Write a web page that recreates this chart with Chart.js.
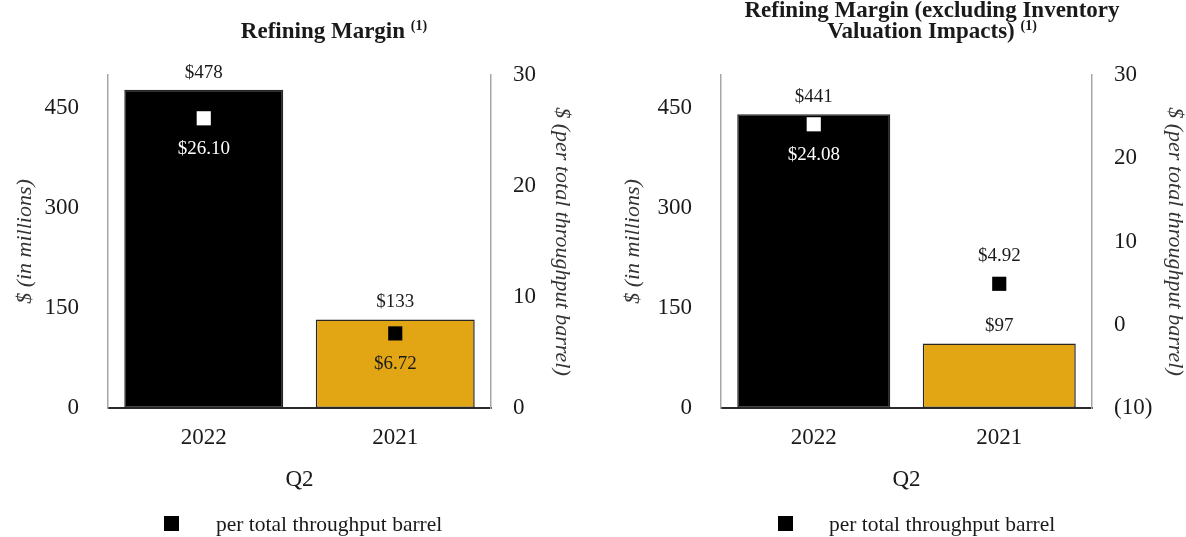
<!DOCTYPE html>
<html>
<head>
<meta charset="utf-8">
<script src="https://cdn.jsdelivr.net/npm/chart.js@4"></script>
<style>
  html, body { margin: 0; padding: 0; background: #fff; }
  #wrap { position: relative; width: 1186px; height: 537px; overflow: hidden; font-family: "Liberation Serif", "Times New Roman", serif; color: #1a1a1a; }
  .panel { position: absolute; top: 0; width: 593px; height: 537px; }
  .title { position: absolute; font-weight: bold; font-size: 23px; line-height: 21px; text-align: center; white-space: nowrap; }
  .title sup { font-size: 14px; vertical-align: 0; position: relative; top: -8px; }
  .legend { position: absolute; font-size: 21.5px; line-height: 22px; white-space: nowrap; }
  .legend .sq { position: absolute; width: 15px; height: 15px; background: #000; }
</style>
</head>
<body>
<div id="wrap">
  <div class="panel" style="left:0"><canvas id="marginChart" width="593" height="537"></canvas></div>
  <div class="panel" style="left:593px"><canvas id="marginExInvChart" width="593" height="537"></canvas></div>

  <div class="title" style="left:134px; width:400px; top:20px;">Refining Margin <sup>(1)</sup></div>
  <div class="title" style="left:732px; width:400px; top:-1px;">Refining Margin (excluding Inventory<br>Valuation Impacts) <sup>(1)</sup></div>

  <div class="legend" style="left:164px; top:513px;"><span class="sq" style="left:0; top:3px"></span><span style="position:absolute; left:52px; top:0">per total throughput barrel</span></div>
  <div class="legend" style="left:778px; top:513px;"><span class="sq" style="left:0; top:3px"></span><span style="position:absolute; left:51px; top:0">per total throughput barrel</span></div>
</div>

<script>
// Q2 refining margin, $ millions and $ per total throughput barrel
const quarters = ['2022', '2021'];
const marginMillions = [478, 133];
const marginPerBarrel = [26.10, 6.72];
const marginExInvMillions = [441, 97];
const marginExInvPerBarrel = [24.08, 4.92];

const millionsTicks = [0, 150, 300, 450];
const perBarrelTicks = [0, 10, 20, 30];
const perBarrelTicksExInv = [-10, 0, 10, 20, 30];

const SERIF = '"Liberation Serif", "Times New Roman", serif';
const INK = '#1a1a1a';
const GOLD = '#E2A614';

// writes "$478" over the bars and "$26.10" next to the square markers
const valueLabels = {
    id: 'valueLabels',
    afterDatasetsDraw(chart, args, opts) {
        const ctx = chart.ctx;
        ctx.save();
        ctx.font = '19px ' + SERIF;
        ctx.textAlign = 'center';
        ctx.textBaseline = 'middle';

        const bars = chart.getDatasetMeta(1);
        bars.data.forEach((el, i) => {
            ctx.fillStyle = INK;
            ctx.fillText('$' + chart.data.datasets[1].data[i], el.x, el.y - 17);
        });

        const marks = chart.getDatasetMeta(0);
        marks.data.forEach((el, i) => {
            const v = chart.data.datasets[0].data[i];
            const dy = opts.markerPos[i] === 'above' ? -28 : 31;
            ctx.fillStyle = opts.markerTextColors[i];
            ctx.fillText('$' + v.toFixed(2), el.x, el.y + dy);
        });
        ctx.restore();
    }
};

function makePanel(canvasId, millions, perBarrel, rightTicks, sizes) {
    const ctx = document.getElementById(canvasId).getContext('2d');
    return new Chart(ctx, {
        data: {
            labels: quarters,
            datasets: [
                {
                    type: 'line',
                    label: 'per total throughput barrel',
                    data: perBarrel,
                    yAxisID: 'y1',
                    showLine: false,
                    pointStyle: 'rect',
                    pointRadius: 10,
                    pointHoverRadius: 10,
                    pointBorderWidth: 0,
                    pointBackgroundColor: ['#ffffff', '#000000'],
                    pointBorderColor: ['#ffffff', '#000000']
                },
                {
                    type: 'bar',
                    label: '$ (in millions)',
                    data: millions,
                    yAxisID: 'y',
                    backgroundColor: ['#000000', GOLD],
                    borderColor: '#262626',
                    borderWidth: 1.5,
                    borderSkipped: false,
                    categoryPercentage: 1,
                    barPercentage: sizes.bar
                }
            ]
        },
        options: {
            responsive: false,
            animation: false,
            events: [],
            layout: { padding: { top: 75, bottom: 39, left: 0, right: 0 } },
            plugins: {
                legend: { display: false },
                tooltip: { enabled: false },
                valueLabels: {
                    markerPos: sizes.markerPos,
                    markerTextColors: ['#ffffff', INK]
                }
            },
            scales: {
                x: {
                    offset: true,
                    grid: { display: false, drawTicks: false },
                    border: { color: '#2b2b2b', width: 2 },
                    ticks: { color: INK, font: { family: SERIF, size: 23 }, padding: 16 },
                    title: { display: true, text: 'Q2', color: INK, font: { family: SERIF, size: 23 }, padding: { top: 0, bottom: 4 } },
                    afterFit: s => { s.height = 90; }
                },
                y: {
                    position: 'left',
                    min: 0,
                    max: 500,
                    grid: { display: false, drawTicks: false },
                    border: { color: '#a6a6a6', width: 1.5 },
                    afterBuildTicks: s => { s.ticks = millionsTicks.map(v => ({ value: v })); },
                    ticks: { color: INK, font: { family: SERIF, size: 23 }, padding: 29 },
                    title: { display: true, text: '$ (in millions)', color: '#333', font: { family: SERIF, size: 22, style: 'italic', lineHeight: 1 }, padding: { top: sizes.leftTitlePad, bottom: 0 } },
                    afterFit: s => { s.width = sizes.leftWidth; }
                },
                y1: {
                    position: 'right',
                    min: rightTicks[0],
                    max: rightTicks[rightTicks.length - 1],
                    grid: { display: false, drawTicks: false },
                    border: { color: '#a6a6a6', width: 1.5 },
                    afterBuildTicks: s => { s.ticks = rightTicks.map(v => ({ value: v })); },
                    ticks: {
                        color: INK,
                        font: { family: SERIF, size: 23 },
                        padding: 22,
                        callback: v => v < 0 ? '(' + Math.abs(v) + ')' : String(v)
                    },
                    title: { display: true, text: '$ (per total throughput barrel)', color: '#333', font: { family: SERIF, size: 22, style: 'italic', lineHeight: 1 }, padding: { top: sizes.rightTitlePad, bottom: 0 } },
                    afterFit: s => { s.width = sizes.rightWidth; }
                }
            }
        },
        plugins: [valueLabels]
    });
}

makePanel('marginChart', marginMillions, marginPerBarrel, perBarrelTicks, {
    leftWidth: 108, rightWidth: 102, leftTitlePad: 14, rightTitlePad: 20, bar: 0.83,
    markerPos: ['below', 'below']
});

makePanel('marginExInvChart', marginExInvMillions, marginExInvPerBarrel, perBarrelTicksExInv, {
    leftWidth: 128, rightWidth: 94, leftTitlePad: 29, rightTitlePad: 0, bar: 0.825,
    markerPos: ['below', 'above']
});
</script>
</body>
</html>
